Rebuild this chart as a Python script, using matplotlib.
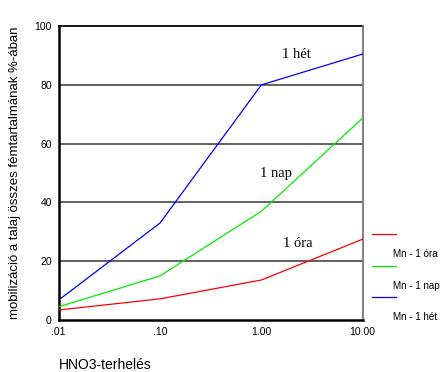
import matplotlib
matplotlib.use("Agg")
import matplotlib.pyplot as plt
from matplotlib.lines import Line2D

plt.rcParams['font.family'] = ['Liberation Sans', 'DejaVu Sans']

# HNO3 load levels and mobilised Mn (% of total metal content)
loads = [0.01, 0.10, 1.00, 10.00]
load_labels = [".01", ".10", "1.00", "10.00"]
mn_1_ora = [3.4, 7.2, 13.6, 27.5]
mn_1_nap = [4.5, 15.0, 37.0, 68.7]
mn_1_het = [6.8, 33.0, 80.0, 90.5]
series_names = ["Mn - 1 óra", "Mn - 1 nap", "Mn - 1 hét"]
curve_labels = ["1 óra", "1 nap", "1 hét"]
y_ticks = [0, 20, 40, 60, 80, 100]

colors = ["#ff0000", "#00ee00", "#0000ff"]

fig = plt.figure(figsize=(4.40, 3.72), dpi=100)
ax = fig.add_axes([0.1334, 0.1398, 0.6909, 0.790])

ax.set_xscale("log")
ax.set_xlim(loads[0], loads[-1])
ax.set_ylim(0, 100)

for yv in y_ticks[1:-1]:
    ax.axhline(yv, color="#555555", lw=1.3, zorder=1)
ax.axhline(100, color="black", lw=1.3, zorder=1, clip_on=False)

for vals, c in zip([mn_1_ora, mn_1_nap, mn_1_het], colors):
    ax.plot(loads, vals, color=c, lw=0.9, zorder=3)

ax.set_xticks(loads)
ax.set_xticklabels(load_labels)
ax.minorticks_off()
ax.set_yticks(y_ticks)
ax.tick_params(axis="both", length=0, labelsize=7.5, pad=5)
ax.tick_params(axis="y", pad=5)

ax.spines["top"].set_visible(False)
ax.spines["left"].set_linewidth(1.8)
ax.spines["bottom"].set_linewidth(1.8)
ax.spines["right"].set_color("#777777")
ax.spines["right"].set_linewidth(1.3)

# In-plot curve labels
label_pos = [(2.3, 26.1), (1.4, 49.8), (2.24, 90.5)]
for txt, (xv, yv) in zip(curve_labels, label_pos):
    ax.text(xv, yv, txt, family=["Liberation Serif", "DejaVu Serif"],
            fontsize=10.5, ha="center", va="center")

ax.set_ylabel("mobilizáció a talaj összes fémtartalmának %-ában", fontsize=9.5)
ax.yaxis.set_label_coords(-0.125, 0.5)
fig.text(59 / 440, 1 - 365 / 372, "HNO3-terhelés", fontsize=10, ha="left", va="center")

# Legend: line sample above each label
leg_y = [234.3, 265.7, 297.0]
for name, c, yy in zip(series_names, colors, leg_y):
    fy = 1 - yy / 372
    fig.add_artist(Line2D([371.7 / 440, 396 / 440], [fy, fy], color=c, lw=0.9,
                          transform=fig.transFigure))
    fig.text(392.5 / 440, 1 - (yy + 20) / 372, name, fontsize=7.1, ha="left", va="center")

fig.savefig("out.png", dpi=100)
